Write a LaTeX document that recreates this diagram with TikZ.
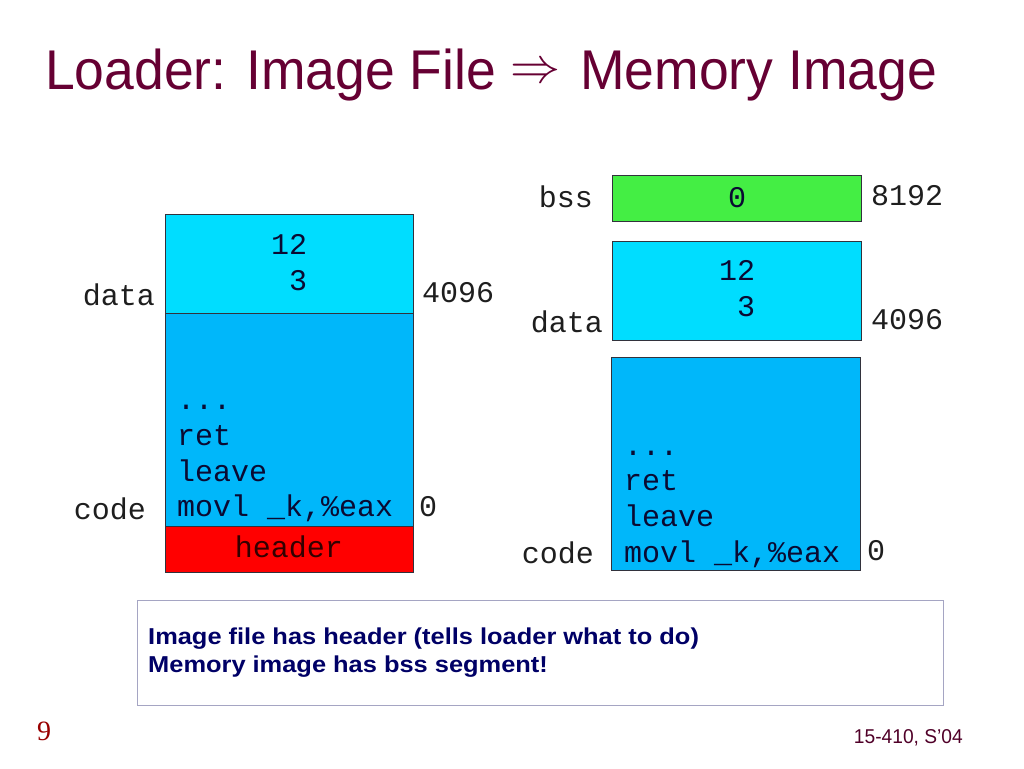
\documentclass[tikz,border=0pt]{standalone}
\usepackage{fontspec}
\setmainfont{Liberation Sans}
\newfontfamily\mono{Liberation Mono}
\newfontfamily\serifft{Liberation Serif}
\definecolor{titlecol}{RGB}{102,0,51}
\definecolor{datacol}{RGB}{0,221,255}
\definecolor{codecol}{RGB}{0,183,250}
\definecolor{hdrcol}{RGB}{255,0,0}
\definecolor{bsscol}{RGB}{68,238,68}
\definecolor{edgecol}{RGB}{50,50,60}
\definecolor{inktext}{RGB}{10,10,50}
\definecolor{labtext}{RGB}{30,30,30}
\definecolor{notebord}{RGB}{165,165,195}
\definecolor{notetext}{RGB}{0,0,102}
\definecolor{pagenum}{RGB}{153,0,0}
\definecolor{footcol}{RGB}{80,0,40}
\tikzset{
  seg/.style={draw=edgecol, line width=0.8pt, inner sep=0pt, anchor=north west},
  mt/.style={font=\fontsize{30}{36}\selectfont\mono, text=inktext, inner sep=0pt},
  lab/.style={font=\fontsize{30}{36}\selectfont\mono, text=labtext, inner sep=0pt},
  ttl/.style={anchor=base west, inner sep=0pt, text=titlecol, font=\fontsize{56}{60}\selectfont},
  note/.style={anchor=base west, inner sep=0pt, text=notetext, font=\bfseries\fontsize{23}{28}\selectfont},
}
\begin{document}
\begin{tikzpicture}[x=1pt,y=-1pt]
\useasboundingbox (0,0) rectangle (1024,768);
% title
\node[ttl] (title1) at (45,89) {\scalebox{0.955}[1]{Loader: Image File}};
\node[anchor=center, inner sep=0pt, text=titlecol] (tarrow) at (535,73) {\scalebox{5}{$\Rightarrow$}};
\node[ttl] (title2) at (580,89) {\scalebox{0.955}[1]{Memory Image}};

% ---- left: image file
\node[seg, fill=datacol, minimum width=248pt, minimum height=99pt] (ldata) at (165,214) {};
\node[seg, fill=codecol, minimum width=248pt, minimum height=213pt] (lcode) at (165,313) {};
\node[seg, fill=hdrcol, minimum width=248pt, minimum height=46pt] (lhdr) at (165,526) {};
\node[mt, anchor=base] (l12) at (289,254) {12};
\node[mt, anchor=base] (l3) at (289,290) {\ 3};
\node[mt, anchor=base west] (lc1) at (177,409) {...};
\node[mt, anchor=base west] (lc2) at (177,445) {ret};
\node[mt, anchor=base west] (lc3) at (177,481) {leave};
\node[mt, anchor=base west] (lc4) at (177,516) {movl \_k,\%eax};
\node[mt, anchor=base, text=black!80!red] (lhtxt) at (289,557) {header};
\node[lab, anchor=base east] (ldlab) at (155,305) {data};
\node[lab, anchor=base east] (lclab) at (146,519) {code};
\node[lab, anchor=base west] (l4096) at (422,302) {4096};
\node[lab, anchor=base west] (l0) at (419,516) {0};

% ---- right: memory image
\node[seg, fill=bsscol, minimum width=249pt, minimum height=46pt] (rbss) at (612,175) {};
\node[seg, fill=datacol, minimum width=249pt, minimum height=99pt] (rdata) at (612,241) {};
\node[seg, fill=codecol, minimum width=249pt, minimum height=213pt] (rcode) at (611,357) {};
\node[mt, anchor=base] (rb0) at (737,207) {0};
\node[mt, anchor=base] (r12) at (737,280) {12};
\node[mt, anchor=base] (r3) at (737,316) {\ 3};
\node[mt, anchor=base west] (rc1) at (624,455) {...};
\node[mt, anchor=base west] (rc2) at (624,490) {ret};
\node[mt, anchor=base west] (rc3) at (624,526) {leave};
\node[mt, anchor=base west] (rc4) at (624,562) {movl \_k,\%eax};
\node[lab, anchor=base east] (rblab) at (593,207) {bss};
\node[lab, anchor=base east] (rdlab) at (603,332) {data};
\node[lab, anchor=base east] (rclab) at (594,563) {code};
\node[lab, anchor=base west] (r8192) at (871,205) {8192};
\node[lab, anchor=base west] (r4096) at (871,329) {4096};
\node[lab, anchor=base west] (r0) at (867,560) {0};

% ---- note box
\node[draw=notebord, line width=0.8pt, anchor=north west, minimum width=806pt, minimum height=105pt, inner sep=0pt] (notebox) at (137,600) {};
\node[note] (n1) at (148,644) {\scalebox{1.105}[1]{Image file has header (tells loader what to do)}};
\node[note] (n2) at (148,672) {\scalebox{1.105}[1]{Memory image has bss segment!}};

% ---- footer
\node[anchor=base west, inner sep=0pt, text=pagenum, font=\serifft\fontsize{28}{32}\selectfont] (pnum) at (37,740) {9};
\node[anchor=base east, inner sep=0pt, text=footcol, font=\fontsize{20}{24}\selectfont] (foot) at (963,743) {\scalebox{0.96}[1]{15-410, S'04}};
\end{tikzpicture}
\end{document}
